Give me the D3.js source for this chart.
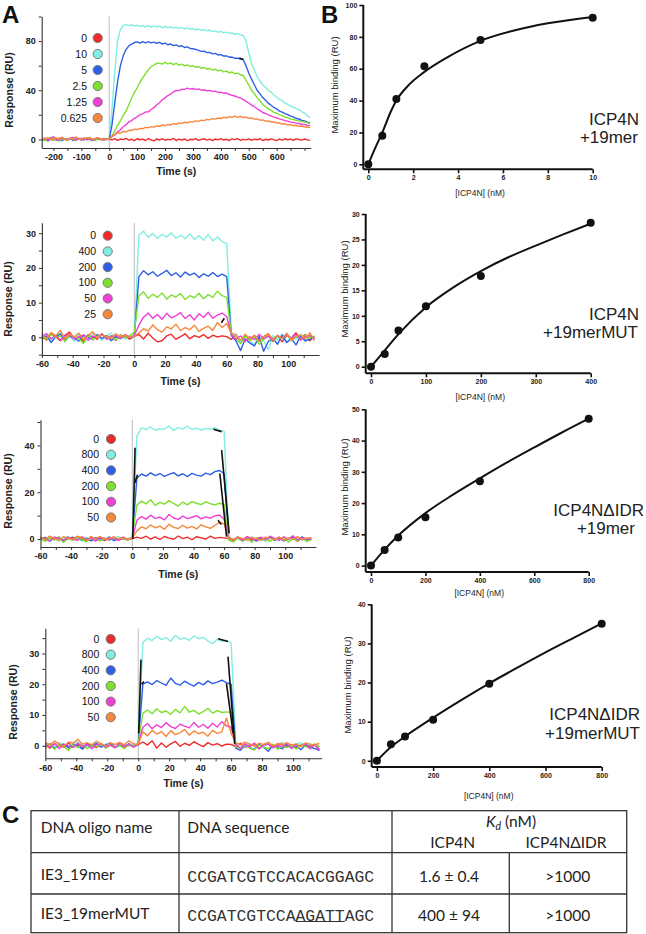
<!DOCTYPE html>
<html><head><meta charset="utf-8">
<script src="https://cdn.jsdelivr.net/npm/d3@7"></script>
<style>body{margin:0;background:#fff;} svg{display:block;}</style>
</head><body>
<svg id="c" width="646" height="934"></svg>
<script>
// ---------------- DATA ----------------
const traceColors = ["#ee2b2b", "#80eee0", "#2f5ee6", "#7ddf2e", "#f03fd6", "#f7873a"];

const legend1 = ["0", "10", "5", "2.5", "1.25", "0.625"];
const legend2 = ["0", "400", "200", "100", "50", "25"];
const legend3 = ["0", "800", "400", "200", "100", "50"];
const legend4 = ["0", "800", "400", "200", "100", "50"];

const row1Time = [-240,-230,-220,-210,-200,-190,-180,-170,-160,-150,-140,-130,-120,-110,-100,-90,-80,-70,-60,-50,-40,-30,-20,-10,0,10,20,30,40,50,60,70,80,90,100,110,120,130,140,150,160,170,180,190,200,210,220,230,240,250,260,270,280,290,300,310,320,330,340,350,360,370,380,390,400,410,420,430,440,450,460,470,480,490,500,510,520,530,540,550,560,570,580,590,600,610,620,630,640,650,660,670,680,690,700,710,720];

const r1Red = [0.5,-0.3,0.8,0.1,-0.6,0.4,1.0,-0.2,0.3,-0.8,0.6,0.0,-0.4,0.7,0.2,-0.5,0.9,0.1,-0.3,0.6,-0.1,0.4,-0.6,0.2,
 0.2,-0.4,0.6,-0.8,0.3,-0.2,0.9,-0.6,0.1,-1.0,0.5,-0.3,0.2,-0.9,0.7,-0.4,-1.2,0.3,-0.5,0.6,-0.7,0.0,-0.4,0.8,-0.9,0.2,-0.5,0.4,-1.1,0.1,-0.3,0.6,-0.8,0.0,0.5,-0.6,0.2,-1.0,0.3,-0.4,0.7,-0.5,0.1,-0.9,0.4,-0.2,0.6,-0.7,0.0,
 -0.4,0.5,-0.8,0.2,-0.3,0.6,-0.9,0.1,-0.5,0.4,-0.2,-1.0,0.3,-0.6,0.5,-0.3,0.2,-0.8,0.4,-0.1,-0.6,0.3,-0.4,-0.8];
const r1Cyan = [1.2,-0.5,0.9,1.8,0.2,-0.8,0.6,1.4,-0.3,0.8,0.1,1.5,-0.6,0.4,1.0,-0.2,0.7,1.6,0.0,-0.7,0.9,0.3,1.1,0.4,
 0,25,56,80,89.5,92.5,93.4,92.6,93.5,92.2,92.9,91.8,92.8,91.6,92.5,91.3,92.4,91.4,92.1,91.0,91.9,90.8,91.6,90.6,91.3,90.3,91.0,90.0,90.7,89.6,90.2,89.2,89.8,88.7,89.3,88.3,88.9,87.7,88.3,87.3,87.8,86.7,87.3,86.2,86.7,85.6,86.0,85.0,84.8,
 80,70.5,62,56.5,51,47.5,44.5,42.5,40,38.5,36,34.5,32.5,31.5,29.5,28.5,27,26.2,25,24.2,22.5,21.3,19.2,17.5];
const r1Blue = [-0.8,0.4,-1.2,0.2,0.9,-0.5,0.3,-1.0,0.6,-0.2,0.8,-0.9,0.1,0.5,-0.6,1.0,-0.3,0.2,-1.1,0.4,0.7,-0.4,0.3,0.0,
 0,12,30,47,60,68,73,76,77.5,78.8,79.3,78.4,79.6,78.6,79.5,78.5,79.2,78.2,78.9,77.6,78.3,77.0,77.6,76.3,76.9,75.6,76.2,74.8,75.3,74.0,73.8,73.2,72.5,71.6,71.8,70.6,70.8,69.6,70.0,68.7,69.0,67.8,67.9,66.9,67.0,66.0,66.1,65.4,65.0,
 60,54,49,44.5,40,37.2,34,31.8,29.5,27.8,26,24.8,23,22.2,21,20.2,19,18.3,17,16.6,15.5,15.1,14,13.5];
const r1Green = [0.6,-1.0,0.3,1.2,-0.4,0.8,-1.5,0.2,0.5,-0.7,1.1,0.0,-0.9,0.6,0.3,-0.5,1.3,-0.2,0.4,-1.0,0.8,0.1,-0.6,0.3,
 0,3,7,11.5,15,19.5,23,28,33.5,38,42,46.5,50,53.5,56.5,59.2,60.4,61.8,62.1,61.3,62.6,61.4,62.3,60.8,61.9,60.4,61.3,59.8,60.7,59.3,60.1,58.6,59.3,57.8,58.6,57.1,57.9,56.4,57.1,55.8,56.4,55.0,55.6,54.2,54.8,53.4,53.9,52.6,52.0,
 48,44.3,40,37.3,34,31.2,28.5,26.8,25,23.8,22,21.3,20,19.3,18,17.5,16.5,16.2,15.5,15.2,14.5,14.2,13.5,13.0];
const r1Magenta = [0.3,1.0,-0.4,0.7,2.2,0.1,-0.6,1.2,0.4,-0.2,0.9,1.6,-0.5,0.3,0.8,-0.3,1.1,0.2,-0.8,0.6,1.4,0.0,0.5,-0.2,
 0,2.2,3.8,6.2,7.8,10.3,11.8,14.2,15.3,17.2,18.3,20.2,20.8,22.3,22.4,24.3,25.8,28.2,29.8,32.2,33.8,35.7,36.8,38.7,39.8,39.7,40.8,40.7,41.7,40.9,41.4,40.7,41.1,40.1,40.4,39.5,39.9,39.0,39.2,38.3,38.5,37.6,37.7,36.6,35.9,35.3,34.4,33.6,32.5,
 31,29.6,27.9,26.6,24.9,23.6,21.9,21.1,19.9,19.1,18.1,17.6,16.7,16.1,15.2,14.9,14.1,13.8,13.2,12.9,12.3,12.1,11.6,11.4];
const r1Orange = [0.9,0.2,1.5,-0.3,0.6,1.1,0.0,1.8,0.4,-0.5,1.0,0.3,2.0,0.7,-0.2,1.2,0.5,1.6,0.1,0.8,1.3,-0.1,0.7,0.4,
 0,2.8,3.8,5.3,5.2,6.4,6.2,7.4,7.2,8.4,8.0,9.0,8.7,9.8,9.5,10.4,10.0,11.0,10.7,11.7,11.2,12.2,11.7,12.8,12.3,13.4,13.0,13.9,13.5,14.5,14.1,15.1,14.7,15.7,15.3,16.3,15.9,16.9,16.5,17.4,17.0,18.0,17.5,18.5,18.0,18.9,17.9,18.7,17.8,
 18.1,17.2,17.5,16.5,16.7,15.7,15.9,14.9,15.1,14.1,14.3,13.3,13.5,12.5,12.7,11.8,12.1,11.2,11.5,10.6,10.9,10.0,10.3,9.5];

const shortTime = [-60,-57,-54,-51,-48,-45,-42,-39,-36,-33,-30,-27,-24,-21,-18,-15,-12,-9,-6,-3,0,3,6,9,12,15,18,21,24,27,30,33,36,39,42,45,48,51,54,57,60,63,66,69,72,75,78,81,84,87,90,93,96,99,102,105,108,111,114,117];

const r2Red = [0.5,-0.8,1.2,0.2,-1.0,0.6,1.5,-0.4,0.3,-1.2,0.8,0.1,-0.6,1.0,-0.3,0.4,-0.9,0.7,0.2,-0.5,
 0.3,0.8,-0.5,1.2,-0.2,-1.3,-1.0,0.4,0.9,-0.6,0.2,1.0,-0.4,0.5,0.0,0.8,-0.3,0.6,0.1,0.4,
 0.2,-0.6,0.9,-1.5,0.3,-0.8,0.5,-1.1,0.2,1.0,-0.7,0.4,-1.3,0.6,-0.2,1.3,-0.5,0.8,-1.0,0.3];
const r2Cyan = [1.0,0.2,-0.7,0.5,1.3,-0.3,0.6,-1.2,0.8,0.0,-0.5,1.1,0.3,-0.9,0.4,1.2,-0.2,0.5,-0.6,0.3,
 0.5,29.5,30.6,28.8,29.9,28.5,29.7,28.9,30.1,28.6,29.4,28.4,29.8,28.2,29.3,28.0,29.6,27.8,28.9,27.6,
 27.0,1.5,0.6,-1.2,0.8,-0.5,-2.4,0.3,-1.0,-3.5,0.5,-0.8,1.0,-1.4,0.2,-0.6,0.9,-1.2,0.4,-0.3];
const r2Blue = [-0.6,0.4,-1.5,0.2,0.9,-0.8,0.3,-0.2,-1.1,0.6,0.0,-0.7,0.8,-0.3,0.5,-1.0,0.2,-0.4,0.6,-0.2,
 0.4,17.5,19.2,18.0,18.9,17.6,18.4,19.3,17.8,18.6,17.4,18.8,17.9,18.5,17.2,18.3,17.6,18.7,17.5,18.2,
 17.5,0.5,-1.0,-3.8,-0.5,-1.6,-2.5,0.2,-4.0,-1.2,-0.3,-2.0,0.6,-1.5,-0.4,-2.2,0.3,-1.0,-0.6,0.2];
const r2Green = [0.3,-0.5,0.8,-0.2,0.4,-1.3,0.6,0.1,-0.4,-1.8,0.5,-0.6,0.2,0.9,-0.3,0.4,-0.8,0.3,0.0,0.5,
 1.5,12.0,13.1,11.2,12.4,11.5,12.8,11.0,12.2,11.6,12.6,10.9,12.0,11.4,12.7,11.1,12.3,11.5,13.3,12.0,
 11.5,1.0,-0.5,-1.8,0.4,-1.0,0.2,-2.0,-0.6,0.5,-1.3,0.3,-0.4,0.8,-0.9,0.2,-0.5,0.6,-0.2,0.4];
const r2Magenta = [0.2,1.1,-0.4,0.6,-0.8,0.3,0.9,-0.5,0.1,0.7,-0.9,0.4,-0.2,1.0,-0.6,0.3,0.5,-0.3,0.8,0.0,
 0.5,3.5,5.8,7.0,5.5,6.6,5.2,6.9,5.6,6.2,7.1,5.4,6.5,5.0,6.8,5.7,7.2,5.5,6.4,7.0,
 6.0,0.8,-0.6,0.4,-1.2,0.2,-0.7,0.9,-0.4,0.3,-1.0,0.6,-0.3,0.8,-0.5,1.0,-0.8,0.2,0.5,-0.6];
const r2Orange = [0.8,-0.3,1.4,0.4,2.0,-0.5,0.9,0.1,1.2,-0.7,0.5,1.6,-0.2,0.7,0.3,-0.4,1.0,0.2,0.6,-0.1,
 0.3,1.2,2.5,1.8,3.6,2.2,1.5,3.0,2.4,3.8,1.9,2.8,2.2,3.5,1.7,2.6,3.2,2.0,4.3,2.8,
 4.0,1.2,0.3,-0.8,0.9,-0.4,0.6,-1.2,0.2,1.0,-0.6,0.5,-0.3,1.2,-0.9,0.4,0.7,-0.5,1.3,-1.0];

const r3Red = [0.4,-0.6,0.9,-0.3,0.7,-1.0,0.2,0.8,-0.5,0.3,-0.8,1.0,-0.2,0.5,-0.7,0.6,0.1,-0.4,0.8,-0.2,
 0.2,0.8,0.3,1.2,0.0,0.9,-0.2,1.1,0.4,-0.1,1.3,0.2,0.8,-0.3,1.0,0.5,0.0,1.2,0.3,0.7,
 0.5,0.2,-0.7,0.6,-0.3,0.9,-0.5,0.2,0.7,-0.8,0.4,-0.2,0.8,-0.6,0.3,0.5,-0.9,0.4,-0.1,0.6];
const r3Cyan = [0.6,-0.4,0.9,0.1,-0.8,0.5,1.0,-0.3,0.4,-0.9,0.7,0.0,-0.5,0.8,0.2,-0.6,0.4,1.1,-0.2,0.3,
 0.5,44.0,47.5,46.8,47.9,46.5,47.2,46.9,48.3,46.4,47.6,47.0,48.2,46.8,47.4,46.6,47.3,46.9,47.5,46.5,
 46.0,0.8,-0.2,0.6,-0.8,0.3,0.9,-0.4,0.2,-0.9,0.5,0.1,-0.6,0.7,-0.3,0.4,0.8,-0.5,0.2,-0.7];
const r3Blue = [-0.3,0.7,-0.9,0.4,0.2,-0.6,0.8,-0.2,1.0,-0.5,0.3,-0.8,0.6,0.0,-0.4,0.9,-0.7,0.2,0.5,-0.3,
 0.5,26.0,27.8,26.9,28.3,27.1,28.0,26.8,27.6,28.4,27.0,27.9,26.7,28.1,27.3,26.9,28.2,27.5,28.8,29.3,
 28.0,0.6,-0.4,0.9,-0.7,0.2,0.5,-0.9,0.3,-0.2,0.8,-0.6,0.4,-0.8,0.1,0.7,-0.5,0.9,-0.3,0.2];
const r3Green = [0.2,-1.0,0.5,-0.4,1.1,-1.5,0.3,-0.6,0.8,-0.2,-1.2,0.6,0.0,-0.8,0.4,-0.5,0.7,-0.3,0.2,-0.6,
 0.8,14.5,16.2,15.0,16.8,14.4,15.7,14.9,16.4,15.2,14.1,15.8,14.6,16.0,15.3,14.7,15.9,15.1,14.6,15.3,
 14.8,-0.5,-1.2,0.4,-0.9,0.2,-1.4,0.5,-0.6,0.0,-1.0,0.3,-0.5,0.8,-1.3,0.1,-0.7,0.5,-1.1,-0.2];
const r3Magenta = [0.5,0.1,-0.7,0.9,0.3,-0.5,0.6,0.0,-0.4,1.0,-0.2,0.4,-0.9,0.7,0.2,-0.3,0.8,-0.6,0.3,0.1,
 0.4,8.0,9.6,8.5,10.2,8.8,9.4,8.2,10.5,9.0,8.4,9.8,8.7,9.3,10.0,8.6,9.5,8.9,9.9,10.3,
 8.5,0.6,-0.3,0.8,-0.6,1.0,0.2,-0.4,0.7,-0.2,1.2,0.3,-0.5,0.9,0.0,1.4,-0.3,0.6,0.2,-0.1];
const r3Orange = [0.9,-0.2,1.3,0.3,-0.6,1.0,0.4,-0.1,1.2,0.6,-0.4,0.8,0.2,1.1,-0.3,0.5,0.9,0.0,0.6,-0.2,
 0.5,3.5,5.2,4.4,6.0,4.8,5.5,4.2,6.3,5.0,4.5,5.9,4.7,5.4,4.3,6.1,5.2,4.6,5.8,7.2,
 6.5,0.5,-0.3,0.9,0.2,-0.5,0.7,0.1,-0.4,0.8,0.3,-0.2,0.6,-0.6,0.4,0.0,1.0,-0.3,0.5,0.2];

const r4Red = [0.3,-0.8,0.6,0.1,-0.5,0.9,-0.3,0.4,-1.0,0.7,0.2,-0.6,0.5,-0.2,0.8,-0.4,0.3,-0.7,0.6,0.0,
 0.3,1.2,0.2,1.6,-0.8,0.9,-0.5,0.6,1.4,-0.2,0.8,0.1,1.3,0.4,-0.3,1.0,0.2,0.7,-0.1,0.5,
 0.4,-0.3,0.8,-0.6,0.2,0.5,-0.9,0.3,0.6,-0.4,0.1,0.9,-0.5,0.4,-0.8,0.2,0.7,-0.3,0.5,-1.2];
const r4Cyan = [0.8,0.2,-0.5,1.0,0.4,-0.3,0.7,1.2,0.0,-0.6,0.5,0.9,-0.2,0.6,0.1,-0.4,0.8,0.3,-0.1,0.5,
 0.5,33.5,35.0,34.2,35.6,34.5,35.2,34.0,35.9,34.6,35.1,34.3,35.7,34.8,35.3,34.1,33.2,34.6,34.0,34.3,
 33.5,0.9,0.2,-0.5,0.7,0.0,0.6,-0.3,0.9,0.1,-0.4,0.8,0.3,-0.2,0.6,1.0,-0.1,0.5,0.2,-0.3];
const r4Blue = [-0.4,0.6,-0.9,0.2,0.5,-0.7,0.3,0.0,-1.1,0.4,-0.3,0.7,-0.5,0.2,0.9,-0.6,0.1,-0.2,0.5,-0.4,
 0.4,20.0,20.8,19.9,21.2,20.4,19.6,22.0,20.3,19.7,21.0,20.1,19.4,20.6,19.8,21.1,20.2,20.7,21.3,20.5,
 20.0,-0.8,-1.5,0.2,-0.6,-1.2,0.4,-0.5,-1.8,0.1,-0.4,-1.0,0.3,-0.7,0.0,-1.3,0.2,-0.5,-0.9,-1.6];
const r4Green = [-0.8,0.3,-1.2,0.5,-0.4,-1.5,0.2,-0.6,0.4,-1.0,0.0,-0.3,0.6,-0.8,0.2,-0.5,0.1,-0.9,0.3,-0.2,
 0.8,10.5,11.6,10.4,12.0,10.8,11.3,10.2,11.8,10.7,12.8,10.9,11.5,10.3,11.1,12.2,10.6,11.4,10.8,11.0,
 10.8,-0.3,-1.0,0.4,-0.8,-1.4,0.2,-0.5,-0.9,0.5,-1.2,0.0,-0.6,0.3,-1.1,0.4,-0.3,-0.8,0.6,-0.4];
const r4Magenta = [0.2,-0.5,0.7,-0.9,0.4,0.0,-0.6,0.8,-0.3,0.5,-1.0,0.3,0.6,-0.4,0.2,-0.7,0.9,-0.2,0.4,-0.5,
 0.5,6.0,7.2,5.5,6.8,5.9,7.5,6.2,5.6,7.0,6.4,5.8,7.6,6.0,6.9,5.7,7.3,6.1,7.8,6.5,
 6.0,0.3,-0.8,0.6,-0.4,0.9,-1.1,0.2,0.5,-0.7,0.1,-0.3,0.8,-0.9,0.4,-0.2,0.7,-1.0,0.3,-1.4];
const r4Orange = [1.0,0.3,1.5,0.6,-0.2,1.2,0.8,2.1,0.5,1.0,0.2,1.4,0.7,-0.1,0.9,0.4,1.1,0.3,1.6,0.6,
 0.4,4.5,3.2,5.0,3.8,4.6,3.0,4.9,3.6,4.2,5.3,3.4,4.8,3.9,4.4,3.1,5.0,4.0,4.5,9.0,
 4.0,1.0,0.3,1.2,0.5,-0.2,0.8,0.4,1.1,-0.1,0.7,0.3,1.0,0.2,0.6,-0.3,0.9,0.5,0.2,0.8];

// black fit-line fragments visible on the sensorgrams: [t0, v0, t1, v1]
const fitFrag1 = [[466, 66.2, 480, 65.0]];
const fitFrag2 = [[56.5, 4.2, 58.5, 5.5]];
const fitFrag3 = [[0.3, 0, 1.8, 39], [1.6, 24, 3.4, 27.5], [53, 46.9, 58.4, 45.9], [58.4, 38, 63.3, 2.4], [57.2, 28, 61.6, 1.0], [56, 8, 58.2, 6.2]];
const fitFrag4 = [[0.3, 4, 1.8, 28], [2.2, 20, 3.7, 20.9], [51.6, 34.8, 58, 33.9], [58, 29, 62.3, 0.5], [57, 20.3, 61.3, 4]];

// Panel B: binding points and fitted curves
const b1ConcX = [0, 0.625, 1.25, 2.5, 5, 10];
const b1MaxY = [0, 18, 41, 61.5, 78, 92];
const b1FitX = [0, 0.3, 0.625, 1, 1.25, 1.75, 2.5, 3.5, 5, 6.5, 8, 10];
const b1FitY = [0, 10, 20, 33, 40, 49, 58, 67, 77.5, 84, 88.5, 92.5];

const b2ConcX = [0, 25, 50, 100, 200, 400];
const b2MaxY = [0, 2.5, 7.1, 11.9, 17.8, 28.3];
const b2FitX = [0, 25, 50, 100, 150, 200, 250, 300, 350, 400];
const b2FitY = [0, 3.2, 6.4, 11.7, 15.6, 18.8, 21.5, 23.8, 26, 28.1];

const b3ConcX = [0, 50, 100, 200, 400, 800];
const b3MaxY = [0, 5, 9, 15.5, 27, 47];
const b3FitX = [0, 50, 100, 200, 300, 400, 500, 600, 700, 800];
const b3FitY = [0, 5.1, 9.6, 16.8, 22.6, 27.9, 33, 37.8, 42.5, 47];

const b4ConcX = [0, 50, 100, 200, 400, 800];
const b4MaxY = [0, 4.2, 6.2, 10.5, 19.7, 35];
const b4FitX = [0, 50, 100, 200, 300, 400, 500, 600, 700, 800];
const b4FitY = [0, 3.5, 6.2, 11.0, 15.5, 19.8, 23.8, 27.7, 31.4, 35.1];

// Table
const tableHeader = ["DNA oligo name", "DNA sequence", "ICP4N", "ICP4N\u0394IDR"];
const oligoNames = ["IE3_19mer", "IE3_19merMUT"];
const oligoSeqs = ["CCGATCGTCCACACGGAGC", "CCGATCGTCCAAGATTAGC"];
const kdICP4N = ["1.6 \u00b1 0.4", "400 \u00b1 94"];
const kdDeltaIDR = [">1000", ">1000"];

// ---------------- DRAW ----------------
const svg = d3.select("#c");
const SANS = "'Liberation Sans', Arial, sans-serif";

function sensorgram(L, times, series, labels, frags) {
  const x = d3.scaleLinear().domain(L.xDomain).range(L.xRange);
  const y = d3.scaleLinear().domain(L.yDomain).range(L.yRange);
  const g = svg.append("g");
  g.append("line").attr("x1", x(0)).attr("x2", x(0))
    .attr("y1", L.yRange[1]).attr("y2", L.yRange[0])
    .attr("stroke", "#bdbdbd").attr("stroke-width", 1);
  const line = d3.line().x((d, i) => x(times[i])).y(d => y(d));
  series.forEach((s, k) => {
    g.append("path").attr("d", line(s.slice(0, times.length)))
      .attr("fill", "none").attr("stroke", traceColors[k])
      .attr("stroke-width", 1.4).attr("stroke-linejoin", "round");
  });
  frags.forEach(f => {
    g.append("line").attr("x1", x(f[0])).attr("y1", y(f[1])).attr("x2", x(f[2])).attr("y2", y(f[3]))
      .attr("stroke", "#111").attr("stroke-width", 1.6);
  });
  const xa = d3.axisBottom(x).tickValues(L.xTicks).tickSize(3).tickSizeOuter(0).tickPadding(3)
    .tickFormat(d => L.xLab.includes(d) ? String(d) : "");
  const gx = g.append("g").attr("transform", `translate(0,${L.yRange[0]})`).call(xa);
  const ya = d3.axisLeft(y).tickValues(L.yTicks).tickSize(3).tickSizeOuter(0).tickPadding(3)
    .tickFormat(d => L.yLab.includes(d) ? String(d) : "");
  const gy = g.append("g").attr("transform", `translate(${L.xRange[0]},0)`).call(ya);
  [gx, gy].forEach(a => {
    a.select(".domain").attr("stroke", "#333").attr("stroke-width", 1.1);
    a.selectAll(".tick line").attr("stroke", "#333");
    a.selectAll(".tick text").attr("font-family", SANS).attr("font-weight", "bold")
      .attr("font-size", 9).attr("fill", "#222");
  });
  g.append("text").attr("x", (L.xRange[0] + L.xRange[1]) / 2).attr("y", L.timeY).attr("dy", "0.35em")
    .attr("text-anchor", "middle").attr("font-family", SANS).attr("font-weight", "bold")
    .attr("font-size", 10.5).attr("fill", "#222").text("Time (s)");
  g.append("text").attr("transform", `translate(${L.respX},${L.respY}) rotate(-90)`).attr("dy", "0.35em")
    .attr("text-anchor", "middle").attr("font-family", SANS).attr("font-weight", "bold")
    .attr("font-size", 10.5).attr("fill", "#222").text("Response (RU)");
  labels.forEach((lab, k) => {
    const yy = L.leg[2] + k * L.leg[3];
    g.append("text").attr("x", L.leg[0]).attr("y", yy).attr("dy", "0.35em").attr("text-anchor", "end")
      .attr("font-family", SANS).attr("font-size", 10.5).attr("fill", "#111").text(lab);
    g.append("circle").attr("cx", L.leg[1]).attr("cy", yy).attr("r", 4.6)
      .attr("fill", traceColors[k]).attr("stroke", "#7a7a7a").attr("stroke-width", 1);
  });
}

function bindingPlot(L, px, py, fx, fy, names) {
  const x = d3.scaleLinear().domain(L.xDomain).range(L.xRange);
  const y = d3.scaleLinear().domain(L.yDomain).range(L.yRange);
  const g = svg.append("g");
  const top = L.yRange[1];
  g.append("line").attr("x1", L.axX).attr("x2", L.axX).attr("y1", top).attr("y2", L.axY)
    .attr("stroke", "#111").attr("stroke-width", 2);
  g.append("line").attr("x1", L.axX).attr("x2", L.xRange[1]).attr("y1", L.axY).attr("y2", L.axY)
    .attr("stroke", "#111").attr("stroke-width", 2);
  const xa = d3.axisBottom(x).tickValues(L.xTicks).tickSize(4).tickSizeOuter(0).tickPadding(2);
  const gx = g.append("g").attr("transform", `translate(0,${L.axY})`).call(xa);
  const ya = d3.axisLeft(y).tickValues(L.yTicks).tickSize(4).tickSizeOuter(0).tickPadding(2);
  const gy = g.append("g").attr("transform", `translate(${L.axX},0)`).call(ya);
  [gx, gy].forEach(a => {
    a.select(".domain").remove();
    a.selectAll(".tick line").attr("stroke", "#111").attr("stroke-width", 1.6);
    a.selectAll(".tick text").attr("font-family", SANS).attr("font-weight", "bold")
      .attr("font-size", 7).attr("fill", "#222");
  });
  const line = d3.line().x((d, i) => x(fx[i])).y(d => y(d)).curve(d3.curveMonotoneX);
  g.append("path").attr("d", line(fy)).attr("fill", "none").attr("stroke", "#111").attr("stroke-width", 2);
  g.selectAll(null).data(py).enter().append("circle")
    .attr("cx", (d, i) => x(px[i])).attr("cy", d => y(d)).attr("r", 4).attr("fill", "#111");
  g.append("text").attr("x", (L.axX + L.xRange[1]) / 2 + 2).attr("y", L.xTitleY).attr("dy", "0.35em")
    .attr("text-anchor", "middle").attr("font-family", SANS).attr("font-size", 8.5).attr("fill", "#222")
    .text("[ICP4N] (nM)");
  g.append("text").attr("transform", `translate(${L.yTitleX},${L.yTitleY}) rotate(-90)`).attr("dy", "0.35em")
    .attr("text-anchor", "middle").attr("font-family", SANS).attr("font-size", 9.5).attr("fill", "#222")
    .text("Maximum binding (RU)");
  names.forEach((n, k) => {
    g.append("text").attr("x", L.names[k][0]).attr("y", L.names[k][1]).attr("dy", "0.35em")
      .attr("text-anchor", "end").attr("font-family", SANS).attr("font-size", 17).attr("fill", "#222").text(n);
  });
}

// ---- Panel A ----
sensorgram({xDomain: [-242, 722], xRange: [41.7, 310.7], yDomain: [-7, 100], yRange: [148, 16.5],
  xTicks: [-200,-150,-100,-50,0,50,100,150,200,250,300,350,400,450,500,550,600,650,700],
  xLab: [-200,-100,0,100,200,300,400,500,600], yTicks: [0,20,40,60,80,100], yLab: [0,40,80],
  timeY: 171, respX: 9, respY: 90, leg: [87, 97.7, 38, 16]},
  row1Time, [r1Red, r1Cyan, r1Blue, r1Green, r1Magenta, r1Orange], legend1, fitFrag1);

const xT = [-60,-50,-40,-30,-20,-10,0,10,20,30,40,50,60,70,80,90,100,110];
const xL = [-60,-40,-20,0,20,40,60,80,100];
sensorgram({xDomain: [-60, 120], xRange: [41.9, 319.1], yDomain: [-5.1, 33], yRange: [355, 222.8],
  xTicks: xT, xLab: xL, yTicks: [-5,0,5,10,15,20,25,30], yLab: [0,10,20,30],
  timeY: 381, respX: 8, respY: 299, leg: [96, 107.7, 235.7, 15.7]},
  shortTime, [r2Red, r2Cyan, r2Blue, r2Green, r2Magenta, r2Orange], legend2, fitFrag2);

sensorgram({xDomain: [-60, 120], xRange: [40.5, 315.9], yDomain: [-3.4, 51], yRange: [547, 419.7],
  xTicks: xT, xLab: xL, yTicks: [0,10,20,30,40,50], yLab: [0,20,40],
  timeY: 574, respX: 8, respY: 491, leg: [99, 111, 439, 15.7]},
  shortTime, [r3Red, r3Cyan, r3Blue, r3Green, r3Magenta, r3Orange], legend3, fitFrag3);

sensorgram({xDomain: [-60, 118.5], xRange: [45.3, 321.7], yDomain: [-4.1, 38.2], yRange: [758.3, 628.3],
  xTicks: xT, xLab: xL, yTicks: [0,5,10,15,20,25,30,35], yLab: [0,10,20,30],
  timeY: 783.5, respX: 13, respY: 702, leg: [99.3, 110.7, 639, 15.65]},
  shortTime, [r4Red, r4Cyan, r4Blue, r4Green, r4Magenta, r4Orange], legend4, fitFrag4);

// ---- Panel B ----
bindingPlot({xDomain: [0, 10], xRange: [368.3, 592.7], yDomain: [0, 100], yRange: [164.3, 5],
  axX: 363.3, axY: 169.3, xTicks: [0,2,4,6,8,10], yTicks: [0,20,40,60,80,100],
  xTitleY: 192.7, yTitleX: 335, yTitleY: 85, names: [[639, 119], [638, 137.5]]},
  b1ConcX, b1MaxY, b1FitX, b1FitY, ["ICP4N", "+19mer"]);

bindingPlot({xDomain: [0, 400], xRange: [371, 590.7], yDomain: [0, 30], yRange: [366.7, 214],
  axX: 365.7, axY: 373.3, xTicks: [0,100,200,300,400], yTicks: [0,5,10,15,20,25,30],
  xTitleY: 396.7, yTitleX: 345, yTitleY: 289, names: [[639, 314], [638, 332]]},
  b2ConcX, b2MaxY, b2FitX, b2FitY, ["ICP4N", "+19merMUT"]);

bindingPlot({xDomain: [0, 800], xRange: [371, 588.7], yDomain: [0, 50], yRange: [565.6, 409.3],
  axX: 365.7, axY: 572, xTicks: [0,200,400,600,800], yTicks: [0,10,20,30,40,50],
  xTitleY: 593, yTitleX: 345, yTitleY: 487, names: [[644, 510.5], [635, 528.5]]},
  b3ConcX, b3MaxY, b3FitX, b3FitY, ["ICP4N\u0394IDR", "+19mer"]);

bindingPlot({xDomain: [0, 800], xRange: [376.9, 601.7], yDomain: [0, 40], yRange: [760.8, 604.3],
  axX: 371.7, axY: 767, xTicks: [0,200,400,600,800], yTicks: [0,10,20,30,40],
  xTitleY: 796, yTitleX: 348, yTitleY: 685, names: [[640, 714], [640, 733]]},
  b4ConcX, b4MaxY, b4FitX, b4FitY, ["ICP4N\u0394IDR", "+19merMUT"]);

// ---- panel letters ----
[["A", 2, 23], ["B", 321, 23], ["C", 2, 823]].forEach(p => {
  svg.append("text").attr("x", p[1]).attr("y", p[2]).attr("font-family", SANS).attr("font-weight", "bold")
    .attr("font-size", 24).attr("fill", "#111").text(p[0]);
});

// ---- Panel C table ----
const T = svg.append("g");
const TF = "Lato, 'Open Sans', sans-serif";
const tl = 31, tr = 626.7, tt = 810.7, r1 = 852.7, r2 = 894, tb = 932.7;
const c1 = 179, c2 = 392, c3 = 509.3;
const st = (s) => s.attr("stroke", "#333").attr("stroke-width", 1.3);
st(T.append("rect").attr("x", tl).attr("y", tt).attr("width", tr - tl).attr("height", tb - tt).attr("fill", "none"));
[[tl, r1, tr, r1], [tl, r2, tr, r2], [c1, tt, c1, tb], [c2, tt, c2, tb], [c3, r1, c3, tb]].forEach(l => {
  st(T.append("line").attr("x1", l[0]).attr("y1", l[1]).attr("x2", l[2]).attr("y2", l[3]));
});
function tx(x, y, s, anchor, font, size) {
  return T.append("text").attr("x", x).attr("y", y).attr("dy", "0.35em").attr("text-anchor", anchor || "start")
    .attr("font-family", font || TF).attr("font-size", size || 15.5).attr("fill", "#222").text(s);
}
tx(40.7, 828, tableHeader[0]);
tx(187.3, 828, tableHeader[1]);
const kd = T.append("text").attr("x", 511).attr("y", 821.7).attr("dy", "0.35em").attr("text-anchor", "middle")
  .attr("font-family", TF).attr("font-size", 15.5).attr("fill", "#222");
kd.append("tspan").attr("font-style", "italic").text("K");
kd.append("tspan").attr("font-style", "italic").attr("font-size", 10.5).attr("dy", 3).text("d");
kd.append("tspan").attr("dy", -3).text(" (nM)");
tx(452.7, 842.7, tableHeader[2], "middle");
tx(566, 842.7, tableHeader[3], "middle");
const rowY = [874.5, 913.3];
oligoNames.forEach((n, i) => {
  tx(40.7, rowY[i], n);
  tx(187.3, rowY[i] + 2, oligoSeqs[i], "start", "'Liberation Mono', 'Courier New', monospace", 16.4).attr("fill", "#333");
  tx(449, rowY[i] + 2, kdICP4N[i], "middle");
  tx(567.7, rowY[i] + 2, kdDeltaIDR[i], "middle");
});
// underline of the mutated bases (AGATT, positions 11-15)
const cw = 16.4 * 0.6;
T.append("line").attr("x1", 187.3 + 11 * cw).attr("x2", 187.3 + 16 * cw).attr("y1", 921.5).attr("y2", 921.5)
  .attr("stroke", "#333").attr("stroke-width", 1.2);
</script>
</body></html>
